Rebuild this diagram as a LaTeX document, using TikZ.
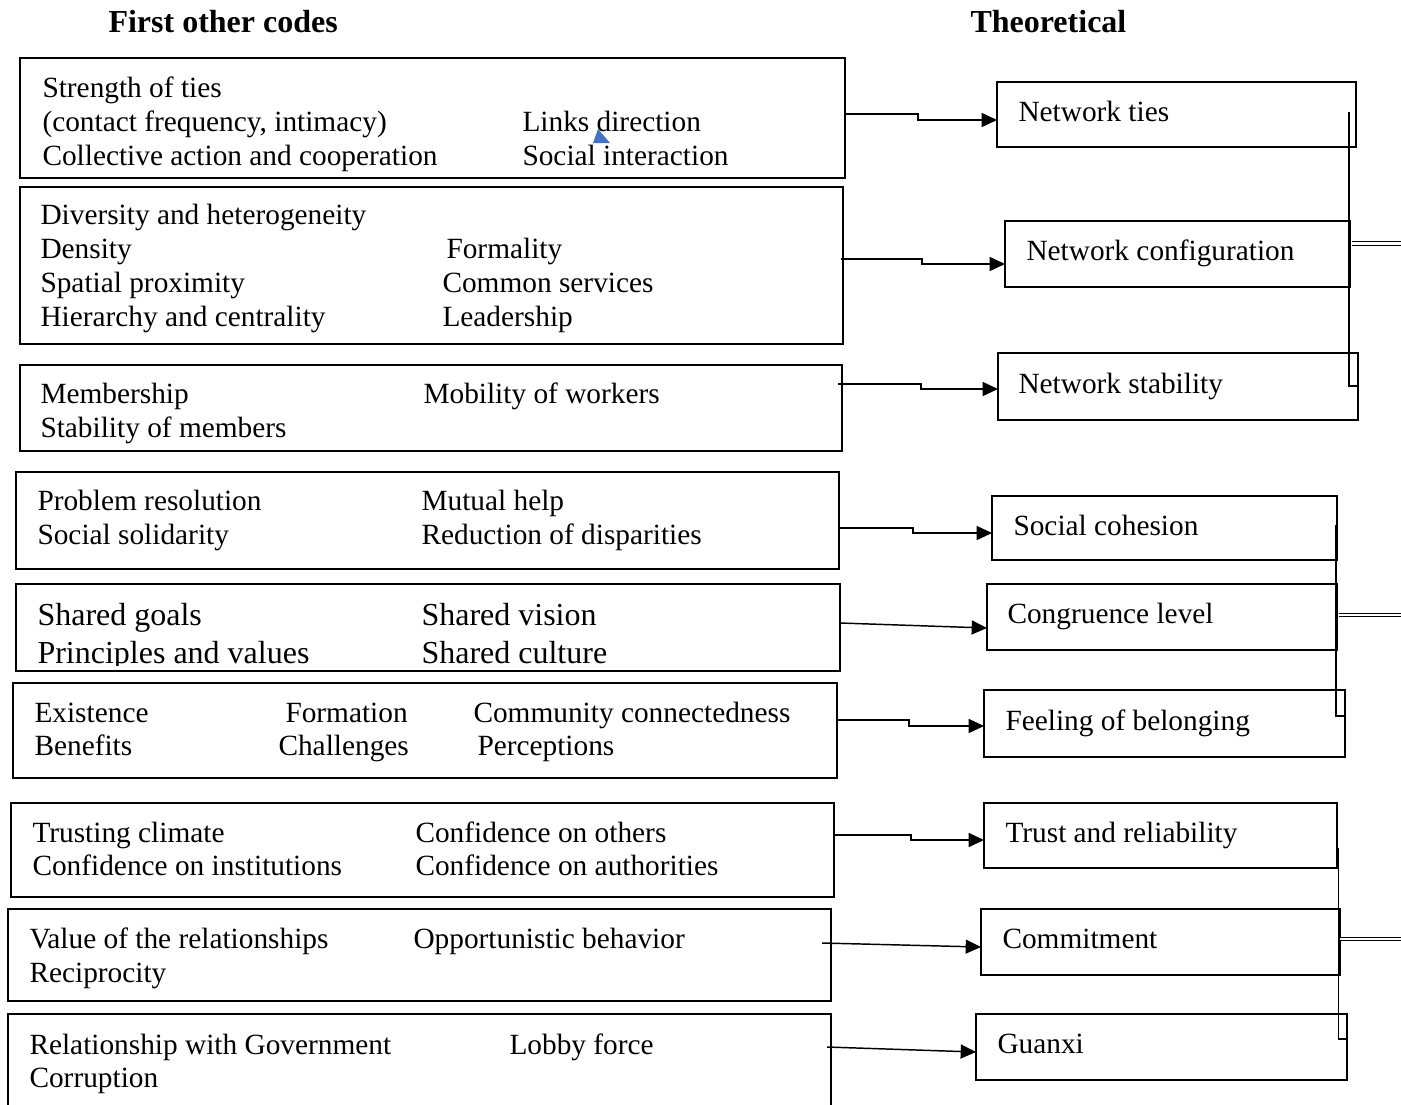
\documentclass[tikz,border=0pt]{standalone}
\usepackage{fontspec}
\setmainfont{Liberation Serif}
\usetikzlibrary{arrows.meta}

\tikzset{every picture/.style={line width=0.75pt}}
\definecolor{tipblue}{RGB}{68,114,196}
\tikzset{
  box/.style 2 args={draw, line width=1.2pt, inner sep=0pt, outer sep=0pt, anchor=north west,
    minimum width=#1*0.75pt, minimum height=#2*0.75pt},
  txt/.style={anchor=base west, inner sep=0pt, font=\fontsize{22}{26}\selectfont},
  bigtxt/.style={anchor=base west, inner sep=0pt, font=\fontsize{24}{28}\selectfont},
  head/.style={anchor=base west, inner sep=0pt, font=\fontsize{24}{28}\selectfont\bfseries},
  link/.style={line width=1.1pt, -{Triangle[length=11.5pt,width=10.5pt]}},
  bracket/.style={line width=1.2pt},
  twin/.style={double, line width=0.9pt, double distance=1.6pt}
}

\begin{document}
\begin{tikzpicture}[x=0.75pt,y=0.75pt,yscale=-1,xscale=1]
                \useasboundingbox (0,0) rectangle (1401,1104);
                \coordinate (edge) at (1401,0);

                % Text Node
                \node[head] (hcodes) at (108,32) {First other codes};
                % Text Node
                \node[head] (htheo) at (970,32) {Theoretical};

                %Shape: Rectangle
                \node[box={825}{120}] (a) at (20,58) {};
                %Shape: Rectangle
                \node[box={823}{157}] (b) at (20,187) {};
                %Shape: Rectangle
                \node[box={822}{86}] (c) at (20,365) {};
                %Shape: Rectangle
                \node[box={823}{97}] (d) at (16,472) {};
                %Shape: Rectangle
                \node[box={824}{87}] (e) at (16,584) {};
                %Shape: Rectangle
                \node[box={824}{95}] (f) at (13,683) {};
                %Shape: Rectangle
                \node[box={823}{94}] (g) at (11,803) {};
                %Shape: Rectangle
                \node[box={823}{92}] (h) at (8,909) {};
                %Shape: Rectangle
                \node[box={823}{96}] (i) at (8,1014) {};

                %Shape: Rectangle
                \node[box={359}{65}] (t1) at (997,82) {};
                %Shape: Rectangle
                \node[box={345}{66}] (t2) at (1005,221) {};
                %Shape: Rectangle
                \node[box={360}{67}] (t3) at (998,353) {};
                %Shape: Rectangle
                \node[box={345}{64}] (t4) at (992,496) {};
                %Shape: Rectangle
                \node[box={350}{66}] (t5) at (987,584) {};
                %Shape: Rectangle
                \node[box={361}{67}] (t6) at (984,690) {};
                %Shape: Rectangle
                \node[box={353}{65}] (t7) at (984,803) {};
                %Shape: Rectangle
                \node[box={359}{66}] (t8) at (981,909) {};
                %Shape: Rectangle
                \node[box={371}{66}] (t9) at (976,1014) {};

                % Text Node
                \node[txt] (a1) at (42,97) {Strength of ties};
                \node[txt] (a2) at (42,131) {(contact frequency, intimacy)};
                \node[txt] (a3) at (42,165) {Collective action and cooperation};
                \node[txt] (a4) at (522,131) {Links direction};
                \node[txt] (a5) at (522,165) {Social interaction};
                % Text Node
                \node[txt] (b1) at (40,224) {Diversity and heterogeneity};
                \node[txt] (b2) at (40,258) {Density};
                \node[txt] (b3) at (40,292) {Spatial proximity};
                \node[txt] (b4) at (40,326) {Hierarchy and centrality};
                \node[txt] (b5) at (446,258) {Formality};
                \node[txt] (b6) at (442,292) {Common services};
                \node[txt] (b7) at (442,326) {Leadership};
                % Text Node
                \node[txt] (c1) at (40,403) {Membership};
                \node[txt] (c2) at (40,437) {Stability of members};
                \node[txt] (c3) at (423,403) {Mobility of workers};
                % Text Node
                \node[txt] (d1) at (37,510) {Problem resolution};
                \node[txt] (d2) at (37,544) {Social solidarity};
                \node[txt] (d3) at (421,510) {Mutual help};
                \node[txt] (d4) at (421,544) {Reduction of disparities};
                % Text Node (cut off just under the second line)
                \begin{scope}
                \clip (e.north west) rectangle (e.east |- 0,665);
                \node[bigtxt] (e1) at (37,625) {Shared goals};
                \node[bigtxt] (e2) at (37,663) {Principles and values};
                \node[bigtxt] (e3) at (421,625) {Shared vision};
                \node[bigtxt] (e4) at (421,663) {Shared culture};
                \end{scope}
                % Text Node
                \node[txt] (f1) at (34,722) {Existence};
                \node[txt] (f2) at (34,755) {Benefits};
                \node[txt] (f3) at (285,722) {Formation};
                \node[txt] (f4) at (278,755) {Challenges};
                \node[txt] (f5) at (473,722) {Community connectedness};
                \node[txt] (f6) at (477,755) {Perceptions};
                % Text Node
                \node[txt] (g1) at (32,842) {Trusting climate};
                \node[txt] (g2) at (32,875) {Confidence on institutions};
                \node[txt] (g3) at (415,842) {Confidence on others};
                \node[txt] (g4) at (415,875) {Confidence on authorities};
                % Text Node
                \node[txt] (h1) at (29,948) {Value of the relationships};
                \node[txt] (h2) at (29,982) {Reciprocity};
                \node[txt] (h3) at (413,948) {Opportunistic behavior};
                % Text Node
                \node[txt] (i1) at (29,1054) {Relationship with Government};
                \node[txt] (i2) at (29,1087) {Corruption};
                \node[txt] (i3) at (509,1054) {Lobby force};

                % Text Node
                \node[txt] (n1) at (1018,121) {Network ties};
                \node[txt] (n2) at (1026,260) {Network configuration};
                \node[txt] (n3) at (1018,393) {Network stability};
                \node[txt] (n4) at (1013,535) {Social cohesion};
                \node[txt] (n5) at (1007,623) {Congruence level};
                \node[txt] (n6) at (1005,730) {Feeling of belonging};
                \node[txt] (n7) at (1005,842) {Trust and reliability};
                \node[txt] (n8) at (1002,948) {Commitment};
                \node[txt] (n9) at (997,1053) {Guanxi};

                %Shape: Triangle
                \fill[tipblue] (598,129) -- (610,143) -- (593,143) -- cycle;

                %Straight Lines
                \draw[link] (a.east |- 0,114) -- ++(73,0) |- (t1.west |- 0,120);
                \draw[link] ([xshift=-1.5pt]b.east |- 0,259) -- ++(81,0) |- (t2.west |- 0,264);
                \draw[link] ([xshift=-3pt]c.east |- 0,384) -- ++(83,0) |- (t3.west |- 0,389);
                \draw[link] (d.east |- 0,528) -- ++(74,0) |- (t4.west |- 0,533);
                \draw[link] (e.east |- 0,623) -- (t5.west |- 0,628);
                \draw[link] (f.east |- 0,720) -- ++(72,0) |- (t6.west |- 0,726);
                \draw[link] (g.east |- 0,835) -- ++(77,0) |- (t7.west |- 0,840);
                \draw[link] ([xshift=-6.75pt]h.east |- 0,943) -- (t8.west |- 0,947);
                \draw[link] ([xshift=-3pt]i.east |- 0,1047) -- (t9.west |- 0,1052);

                %Straight Lines
                \draw[bracket] ([xshift=-5.25pt]t1.east |- 0,112) |- (t3.east |- 0,386);
                \draw[twin] ([xshift=1.5pt]t2.east |- 0,243.5) -- (edge |- 0,243.5);
                \draw[bracket] ([xshift=-0.75pt]t4.east |- 0,525) |- (t6.east |- 0,716);
                \draw[twin] ([xshift=1.5pt]t5.east |- 0,615) -- (edge |- 0,615);
                \draw[bracket] ([xshift=1pt]t7.east |- 0,848) |- (t9.east |- 0,1039);
                \draw[twin] (t8.east |- 0,939) -- (edge |- 0,939);
\end{tikzpicture}
\end{document}
